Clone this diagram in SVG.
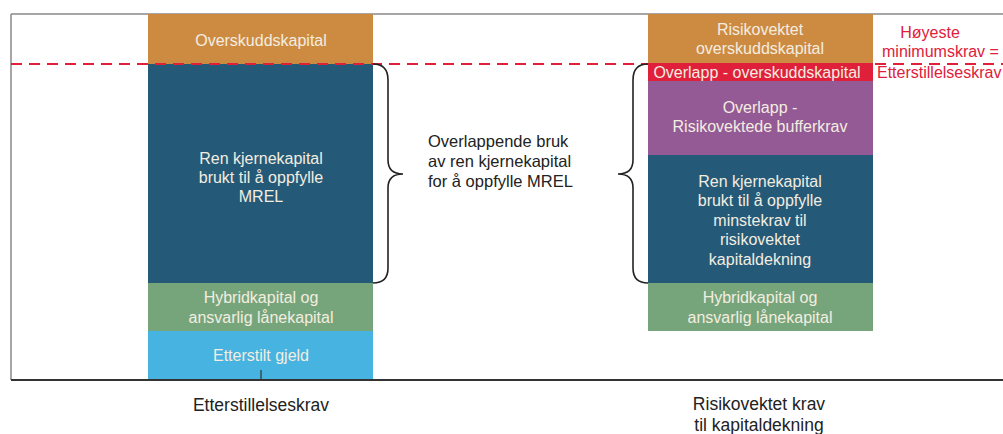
<svg xmlns="http://www.w3.org/2000/svg" width="1003" height="434" viewBox="0 0 1003 434">
<style>
.t{font-family:"Liberation Sans",Arial,sans-serif;font-size:16px;fill:#F3EDE0;text-anchor:middle}
.b{font-family:"Liberation Sans",Arial,sans-serif;font-size:16.5px;fill:#222}
.L{font-family:"Liberation Sans",Arial,sans-serif;font-size:17.5px;fill:#222;text-anchor:middle}
.r{font-family:"Liberation Sans",Arial,sans-serif;font-size:16px;fill:#E0203A}
.br{fill:none;stroke:#222;stroke-width:1.6}
</style>
<rect width="1003" height="434" fill="#fff"/>
<g id="frame">
<line x1="11" y1="14" x2="1003" y2="14" stroke="#888" stroke-width="1.5"/>
<line x1="11" y1="14" x2="11" y2="380" stroke="#888" stroke-width="1.5"/>
</g>
<g id="left-col">
<g id="overskudd-l"><rect x="148" y="14" width="225" height="50" fill="#CD8B42"/><text class="t" x="261" y="46">Overskuddskapital</text></g>
<g id="ren-l"><rect x="148" y="64" width="225" height="219" fill="#245A78"/><text class="t" x="261" y="164">Ren kjernekapital</text><text class="t" x="261" y="183">brukt til å oppfylle</text><text class="t" x="261" y="202">MREL</text></g>
<g id="hybrid-l"><rect x="148" y="283" width="225" height="48" fill="#77A57B"/><text class="t" x="261" y="303">Hybridkapital og</text><text class="t" x="261" y="323">ansvarlig lånekapital</text></g>
<g id="etterstilt-l"><rect x="148" y="331" width="225" height="49" fill="#47B3E0"/><text class="t" x="261" y="361">Etterstilt gjeld</text><line x1="261" y1="370" x2="261" y2="380" stroke="#333" stroke-width="1.2"/></g>
</g>
<g id="right-col">
<g id="overskudd-r"><rect x="648" y="14" width="225" height="49" fill="#CD8B42"/><text class="t" x="760" y="35">Risikovektet</text><text class="t" x="760" y="54">overskuddskapital</text></g>
<g id="overlapp-o"><rect x="648" y="63" width="225" height="18" fill="#E0203A"/><text class="t" x="757" y="78">Overlapp - overskuddskapital</text></g>
<g id="overlapp-b"><rect x="648" y="81" width="225" height="74" fill="#935A95"/><text class="t" x="760" y="113">Overlapp -</text><text class="t" x="760" y="132">Risikovektede bufferkrav</text></g>
<g id="ren-r"><rect x="648" y="155" width="225" height="128" fill="#245A78"/><text class="t" x="760" y="187">Ren kjernekapital</text><text class="t" x="760" y="206">brukt til å oppfylle</text><text class="t" x="760" y="226">minstekrav til</text><text class="t" x="760" y="245">risikovektet</text><text class="t" x="760" y="265">kapitaldekning</text></g>
<g id="hybrid-r"><rect x="648" y="283" width="225" height="48" fill="#77A57B"/><text class="t" x="760" y="303">Hybridkapital og</text><text class="t" x="760" y="323">ansvarlig lånekapital</text></g>
</g>
<g id="connectors">
<line x1="11" y1="380" x2="1003" y2="380" stroke="#333" stroke-width="1.8"/>
<line x1="11" y1="64" x2="1003" y2="64" stroke="#E0203A" stroke-width="2" stroke-dasharray="11,7"/>
<path class="br" d="M373 64 Q388 64 388 80 L388 160 Q388 174 403 174 Q388 174 388 188 L388 268 Q388 283 373 283"/>
<path class="br" d="M648 64 Q633 64 633 80 L633 160 Q633 174 618 174 Q633 174 633 188 L633 268 Q633 283 648 283"/>
</g>
<g id="labels">
<text class="b" x="428" y="147">Overlappende bruk</text>
<text class="b" x="428" y="167">av ren kjernekapital</text>
<text class="b" x="428" y="187">for å oppfylle MREL</text>
<text class="r" x="930" y="38" text-anchor="middle">Høyeste</text>
<text class="r" x="882" y="57">minimumskrav =</text>
<text class="r" x="877" y="78">Etterstillelseskrav</text>
<text class="L" x="261" y="411">Etterstillelseskrav</text>
<text class="L" x="759" y="410">Risikovektet krav</text>
<text class="L" x="759" y="431">til kapitaldekning</text>
</g>
</svg>
